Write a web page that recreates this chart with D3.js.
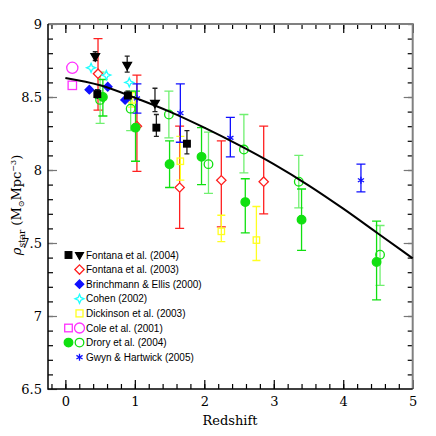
<!DOCTYPE html>
<html>
<head>
<meta charset="utf-8">
<script src="https://cdn.jsdelivr.net/npm/d3@7"></script>
<style>
  body { margin: 0; background: #fff; }
  svg { display: block; }
</style>
</head>
<body>
<svg id="chart"></svg>
<script>
// curve
const curveZ = [0, 0.5, 1, 1.5, 2, 2.5, 3, 3.5, 4, 4.5, 5];
const curveRho = [8.63, 8.58, 8.495, 8.40, 8.29, 8.17, 8.04, 7.895, 7.735, 7.565, 7.395];

// Fontana et al. (2004): squares and triangles
const fon04SqZ = [0.46, 0.90, 1.31, 1.75];
const fon04SqRho = [8.52, 8.51, 8.29, 8.18];
const fon04SqLo = [8.49, 8.48, 8.23, 8.11];
const fon04SqHi = [8.55, 8.54, 8.38, 8.27];
const fon04TrZ = [0.43, 0.89, 1.29];
const fon04TrRho = [8.78, 8.72, 8.46];
const fon04TrLo = [8.75, 8.67, 8.40];
const fon04TrHi = [8.81, 8.78, 8.56];

// Fontana et al. (2003)
const fon03Z = [0.47, 1.03, 1.645, 2.245, 2.855];
const fon03Rho = [8.66, 8.30, 7.88, 7.93, 7.92];
const fon03Lo = [8.41, 7.99, 7.60, 7.61, 7.70];
const fon03Hi = [8.90, 8.65, 8.30, 8.20, 8.30];

// Brinchmann & Ellis (2000)
const brinZ = [0.345, 0.61, 0.86];
const brinRho = [8.55, 8.57, 8.48];

// Cohen (2002)
const cohenZ = [0.37, 0.59, 0.92];
const cohenRho = [8.70, 8.65, 8.60];

// Dickinson et al. (2003)
const dickZ = [0.96, 1.655, 2.245, 2.75];
const dickRho = [8.48, 8.06, 7.58, 7.52];
const dickLo = [8.43, 7.93, 7.51, 7.38];
const dickHi = [8.53, 8.23, 7.69, 7.75];

// Cole et al. (2001)
const coleSqZ = [0.1];
const coleSqRho = [8.58];
const coleCiZ = [0.1];
const coleCiRho = [8.70];

// Drory et al. (2004): filled and open circles
const droFillZ = [0.54, 1.01, 1.50, 1.96, 2.59, 3.40, 4.48];
const droFillRho = [8.50, 8.29, 8.04, 8.09, 7.78, 7.66, 7.37];
const droFillLo = [8.37, 8.06, 7.88, 7.90, 7.57, 7.45, 7.11];
const droFillHi = [8.62, 8.54, 8.20, 8.29, 7.94, 7.87, 7.65];
const droOpenZ = [0.50, 0.94, 1.49, 2.06, 2.57, 3.36, 4.53];
const droOpenRho = [8.48, 8.42, 8.38, 8.04, 8.14, 7.92, 7.42];
const droOpenLo = [8.32, 8.27, 8.22, 7.84, 7.98, 7.74, 7.21];
const droOpenHi = [8.67, 8.54, 8.54, 8.26, 8.38, 8.10, 7.62];

// Gwyn & Hartwick (2005)
const gwynZ = [1.03, 1.655, 2.375, 4.255];
const gwynRho = [8.49, 8.39, 8.22, 7.93];
const gwynLo = [8.39, 8.19, 8.09, 7.85];
const gwynHi = [8.59, 8.59, 8.36, 8.04];

const legendLabels = ["Fontana et al. (2004)", "Fontana et al. (2003)", "Brinchmann & Ellis (2000)",
  "Cohen (2002)", "Dickinson et al. (2003)", "Cole et al. (2001)", "Drory et al. (2004)", "Gwyn & Hartwick (2005)"];

const W = 436, H = 436;
const svg = d3.select("#chart").attr("width", W).attr("height", H);

const x = d3.scaleLinear().domain([-0.25, 5]).range([48, 412.7]);
const y = d3.scaleLinear().domain([6.5, 9]).range([389, 24]);

const zip = (zs, vs, lo, hi) => zs.map((z, i) => ({ z: z, v: vs[i], lo: lo ? lo[i] : null, hi: hi ? hi[i] : null }));

// ticks
const xMinor = d3.range(-0.2, 5, 0.2).map(d => +d.toFixed(1));
const yMinor = d3.range(6.6, 9, 0.1).map(d => +d.toFixed(1));

const serif = "'DejaVu Serif', serif";

svg.append("g").attr("transform", `translate(0,${y(6.5)})`)
  .call(d3.axisBottom(x).tickValues(xMinor).tickSize(-5).tickFormat(""))
  .call(g => g.select(".domain").remove());
svg.append("g").attr("transform", `translate(0,${y(6.5)})`)
  .call(d3.axisBottom(x).tickValues([0, 1, 2, 3, 4, 5]).tickSize(-9).tickPadding(8).tickFormat(d3.format("d")))
  .call(g => g.select(".domain").remove())
  .call(g => g.selectAll("text").attr("font-family", serif).attr("font-size", 13).attr("fill", "#000"));
svg.append("g").attr("transform", `translate(0,${y(9)})`)
  .call(d3.axisTop(x).tickValues(xMinor).tickSize(-5).tickFormat(""))
  .call(g => g.select(".domain").remove());
svg.append("g").attr("transform", `translate(0,${y(9)})`)
  .call(d3.axisTop(x).tickValues([0, 1, 2, 3, 4, 5]).tickSize(-9).tickFormat(""))
  .call(g => g.select(".domain").remove());

svg.append("g").attr("transform", `translate(${x(-0.25)},0)`)
  .call(d3.axisLeft(y).tickValues(yMinor).tickSize(-5).tickFormat(""))
  .call(g => g.select(".domain").remove());
svg.append("g").attr("transform", `translate(${x(-0.25)},0)`)
  .call(d3.axisLeft(y).tickValues([6.5, 7, 7.5, 8, 8.5, 9]).tickSize(-9).tickPadding(6).tickFormat(d => d % 1 === 0 ? d3.format("d")(d) : d))
  .call(g => g.select(".domain").remove())
  .call(g => g.selectAll("line").attr("stroke", "#777"))
  .call(g => g.selectAll("text").attr("font-family", serif).attr("font-size", 13).attr("fill", "#000"));
svg.append("g").attr("transform", `translate(${x(5)},0)`)
  .call(d3.axisRight(y).tickValues(yMinor).tickSize(-5).tickFormat(""))
  .call(g => g.select(".domain").remove());
svg.append("g").attr("transform", `translate(${x(5)},0)`)
  .call(d3.axisRight(y).tickValues([7, 7.5, 8, 8.5]).tickSize(-9).tickFormat(""))
  .call(g => g.select(".domain").remove())
  .call(g => g.selectAll("line").attr("stroke", "#777"));

svg.selectAll(".tick line").attr("stroke-width", 1.2);

// frame
svg.append("path").attr("fill", "none").attr("stroke", "#808080").attr("stroke-width", 2)
  .attr("d", `M${x(-0.25)},${y(9)}H${x(5)}V${y(6.5)}`);
svg.append("path").attr("fill", "none").attr("stroke", "#000").attr("stroke-width", 1.5)
  .attr("d", `M${x(-0.25)},${y(9)}V${y(6.5)}H${x(5)}`);

// error bars
const plot = svg.append("g");
const errBars = (data, color, capW) => {
  const g = plot.append("g").attr("stroke", color).attr("stroke-width", 1.3).attr("fill", "none");
  data.filter(d => d.lo != null).forEach(d => {
    const cx = x(d.z);
    g.append("path").attr("d",
      `M${cx},${y(d.lo)}V${y(d.hi)}M${cx - capW},${y(d.lo)}H${cx + capW}M${cx - capW},${y(d.hi)}H${cx + capW}`);
  });
};

const dFon04Sq = zip(fon04SqZ, fon04SqRho, fon04SqLo, fon04SqHi);
const dFon04Tr = zip(fon04TrZ, fon04TrRho, fon04TrLo, fon04TrHi);
const dFon03 = zip(fon03Z, fon03Rho, fon03Lo, fon03Hi);
const dBrin = zip(brinZ, brinRho);
const dCohen = zip(cohenZ, cohenRho);
const dDick = zip(dickZ, dickRho, dickLo, dickHi);
const dColeSq = zip(coleSqZ, coleSqRho);
const dColeCi = zip(coleCiZ, coleCiRho);
const dDroF = zip(droFillZ, droFillRho, droFillLo, droFillHi);
const dDroO = zip(droOpenZ, droOpenRho, droOpenLo, droOpenHi);
const dGwyn = zip(gwynZ, gwynRho, gwynLo, gwynHi);

errBars(dFon03, "#ff2020", 4.5);
errBars(dDick, "#ffff20", 4);
errBars(dDroO, "#70f070", 4.5);
errBars(dDroF, "#10e010", 4.5);
errBars(dGwyn, "#1010ff", 4.5);
errBars(dFon04Sq, "#222", 2.5);
errBars(dFon04Tr, "#222", 2.5);

// marker shapes
const star4 = (r) => {
  const q = r * 0.3;
  return `M0,${-r}L${q},${-q}L${r},0L${q},${q}L0,${r}L${-q},${q}L${-r},0L${-q},${-q}Z`;
};
const drawMarker = (g, type, size, fill, stroke) => {
  let el;
  if (type === "circle") el = g.append("circle").attr("r", size);
  else if (type === "square") el = g.append("rect").attr("x", -size).attr("y", -size).attr("width", 2 * size).attr("height", 2 * size);
  else if (type === "diamond") el = g.append("rect").attr("x", -size).attr("y", -size).attr("width", 2 * size).attr("height", 2 * size).attr("transform", "rotate(45)");
  else if (type === "triangle") el = g.append("path").attr("d", d3.symbol(d3.symbolTriangle, size * size * 2)()).attr("transform", "rotate(180)");
  else if (type === "star4") el = g.append("path").attr("d", star4(size));
  else if (type === "asterisk") el = g.append("path").attr("d", d3.symbol(d3.symbolAsterisk, size * size * 2.2)());
  el.attr("fill", fill).attr("stroke", stroke).attr("stroke-width", 1.3);
};
const markers = (data, type, size, fill, stroke) => {
  data.forEach(d => {
    const g = plot.append("g").attr("transform", `translate(${x(d.z)},${y(d.v)})`);
    drawMarker(g, type, size, fill, stroke);
  });
};

markers(dColeSq, "square", 4.2, "none", "#ff30ff");
markers(dColeCi, "circle", 5.6, "none", "#ff30ff");
markers(dDick, "square", 3.2, "none", "#ffff20");
markers(dFon03, "diamond", 3.3, "#fff", "#ff2020");
markers(dBrin, "diamond", 3, "#1010ff", "#1010ff");
markers(dCohen, "star4", 4.5, "#fff", "#20ffff");
markers(dDroO, "circle", 4.3, "none", "#10e010");
markers(dDroF, "circle", 4.3, "#10e010", "#10e010");
markers(dGwyn, "asterisk", 4, "none", "#1010ff");
markers(dFon04Sq, "square", 3.3, "#000", "#000");
markers(dFon04Tr, "triangle", 4, "#000", "#000");

// curve
const line = d3.line().x(d => x(d.z)).y(d => y(d.v)).curve(d3.curveMonotoneX);
plot.append("path").datum(zip(curveZ, curveRho)).attr("fill", "none").attr("stroke", "#000")
  .attr("stroke-width", 2).attr("d", line);

// legend
const legendMarks = [
  [["square", 3.3, "#000", "#000"], ["triangle", 3.6, "#000", "#000"]],
  [null, ["diamond", 3.3, "#fff", "#ff2020"]],
  [null, ["diamond", 3, "#1010ff", "#1010ff"]],
  [null, ["star4", 4.5, "#fff", "#20ffff"]],
  [null, ["square", 3.5, "none", "#ffff20"]],
  [["square", 3.8, "none", "#ff30ff"], ["circle", 5, "none", "#ff30ff"]],
  [["circle", 4.3, "#10e010", "#10e010"], ["circle", 4.3, "none", "#10e010"]],
  [null, ["asterisk", 4, "none", "#1010ff"]]
];
const legend = svg.append("g");
legendLabels.forEach((label, i) => {
  const ly = 255 + i * 14.6;
  legendMarks[i].forEach((m, j) => {
    if (!m) return;
    const g = legend.append("g").attr("transform", `translate(${j === 0 ? 68.5 : 79.5},${ly})`);
    drawMarker(g, m[0], m[1], m[2], m[3]);
  });
  legend.append("text").attr("x", 86).attr("y", ly + 3.6).text(label)
    .attr("font-family", "'Liberation Sans', Arial, sans-serif").attr("font-size", 10).attr("fill", "#000");
});

// axis titles
svg.append("text").attr("x", x(2.37)).attr("y", 425).attr("text-anchor", "middle")
  .attr("font-family", serif).attr("font-size", 13).text("Redshift");

const yt = svg.append("text").attr("transform", `translate(21,${205}) rotate(-90)`)
  .attr("text-anchor", "middle").attr("font-family", serif).attr("font-size", 13);
yt.append("tspan").attr("font-style", "italic").text("ρ");
yt.append("tspan").attr("font-size", 9).attr("dy", 4).text("star");
yt.append("tspan").attr("dy", -4).attr("dx", 4).text("(M");
yt.append("tspan").attr("font-size", 8).attr("dy", 3).text("⊙");
yt.append("tspan").attr("dy", -3).text("Mpc");
yt.append("tspan").attr("font-size", 8).attr("dy", -5).text("−3");
yt.append("tspan").attr("dy", 5).text(")");
</script>
</body>
</html>
